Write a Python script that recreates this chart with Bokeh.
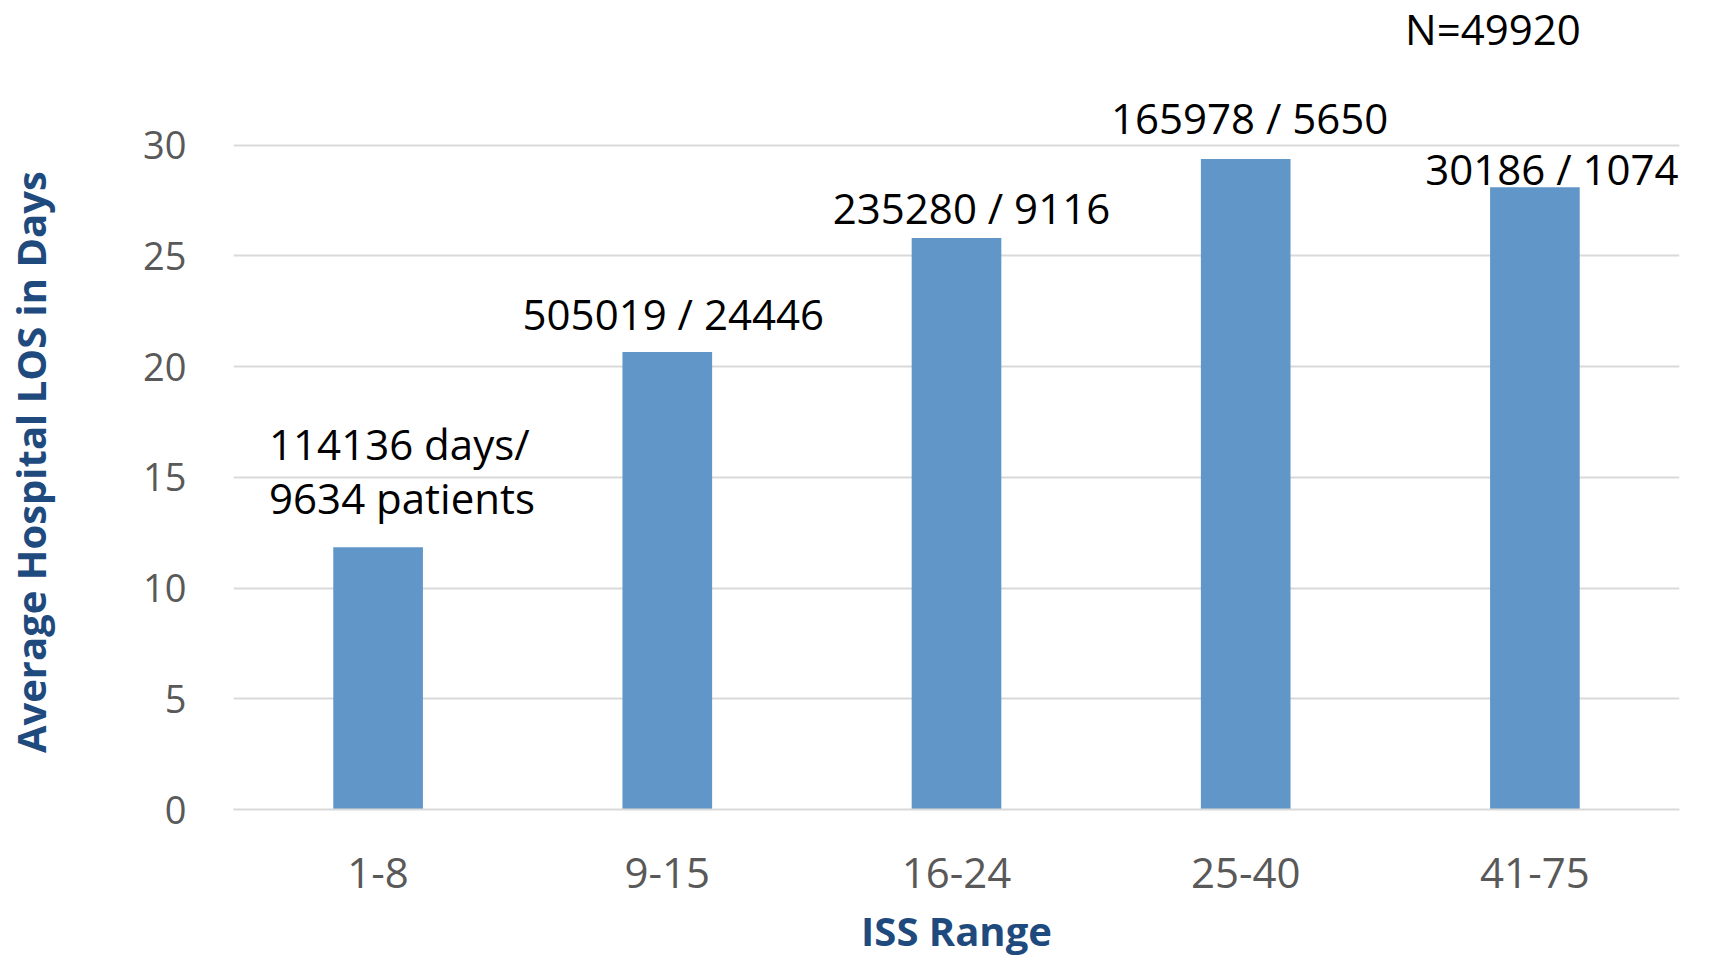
from bokeh.plotting import figure
from bokeh.models import ColumnDataSource, LabelSet, Label, FixedTicker, Range1d, FactorRange, Title
from bokeh.core.properties import value
from bokeh.embed import file_html
from bokeh.resources import INLINE

# ---- data ----
categories = ["1-8", "9-15", "16-24", "25-40", "41-75"]
avg_los = [11.85, 20.66, 25.81, 29.38, 28.11]
bar_labels = ["", "505019 / 24446", "235280 / 9116", "165978 / 5650", "30186 / 1074"]
first_label_lines = ["114136 days/", "9634 patients"]
total_n_text = "N=49920"
x_title = "ISS Range"
y_title = "Average Hospital LOS in Days"
y_ticks = [0, 5, 10, 15, 20, 25, 30]

# ---- layout / style (pixel offsets, not data) ----
label_dx = [0, 6, 15, 4, 17]
label_dy = [0, 22, 14, 25, 2]
first_dx = -109
first_dy = [87, 33]
y_title_pad = "\u00a0" * 11   # trailing no-break spaces nudge the rotated title toward the plot area centre

BAR = "#6196C8"
TITLE = "#1F4A7E"
TICK = "#595959"
GRID = "#D9D9D9"
FONT = "Open Sans"

p = figure(
    x_range=FactorRange(*categories, range_padding=0),
    y_range=Range1d(0, 36.54),
    width=1697, height=972,
    output_backend="svg", toolbar_location=None,
    min_border_left=229, min_border_right=18, min_border_top=0, min_border_bottom=163,
)
p.outline_line_color = None
p.background_fill_color = "white"

src = ColumnDataSource(dict(cat=categories, val=avg_los, lab=bar_labels, dx=label_dx, dy=label_dy))
p.vbar(x="cat", top="val", width=0.31, source=src, fill_color=BAR, line_color=None)

# grid
p.xgrid.grid_line_color = None
p.ygrid.grid_line_color = GRID
p.ygrid.grid_line_width = 2
p.yaxis.ticker = FixedTicker(ticks=y_ticks)

# y axis
p.yaxis.axis_line_color = None
p.yaxis.major_tick_line_color = None
p.yaxis.minor_tick_line_color = None
p.yaxis.major_label_text_font = FONT
p.yaxis.major_label_text_font_size = "38px"
p.yaxis.major_label_text_color = TICK
p.yaxis.major_label_standoff = 41
p.yaxis.axis_label = y_title + y_title_pad
p.yaxis.axis_label_text_font = FONT
p.yaxis.axis_label_text_font_style = "bold"
p.yaxis.axis_label_text_font_size = "40px"
p.yaxis.axis_label_text_color = TITLE
p.yaxis.axis_label_standoff = 82

# x axis
p.xaxis.axis_line_color = GRID
p.xaxis.axis_line_width = 2
p.xaxis.major_tick_line_color = None
p.xaxis.minor_tick_line_color = None
p.xaxis.major_label_text_font = FONT
p.xaxis.major_label_text_font_size = "42px"
p.xaxis.major_label_text_color = TICK
p.xaxis.major_label_standoff = 42

p.add_layout(Title(text=x_title, align="center", offset=16, standoff=20,
                   text_font=FONT, text_font_style="bold", text_font_size="40px",
                   text_color=TITLE), "below")

# data labels
labels = LabelSet(x="cat", y="val", text="lab", x_offset="dx", y_offset="dy", source=src,
                  text_font=value(FONT), text_font_size="42px", text_color="black",
                  text_align="center", text_baseline="alphabetic")
p.add_layout(labels)

src1 = ColumnDataSource(dict(cat=[categories[0]] * 2, val=[avg_los[0]] * 2,
                             lab=first_label_lines, dy=first_dy))
labels1 = LabelSet(x="cat", y="val", text="lab", x_offset=first_dx, y_offset="dy", source=src1,
                   text_font=value(FONT), text_font_size="42px", text_color="black",
                   text_align="left", text_baseline="alphabetic")
p.add_layout(labels1)

p.add_layout(Label(x=4.5, y=0, x_offset=-42, y_offset=781, text=total_n_text,
                   text_font=FONT, text_font_size="42px", text_color="black",
                   text_align="center", text_baseline="alphabetic"))

open("out.html", "w").write(file_html(p, INLINE))
